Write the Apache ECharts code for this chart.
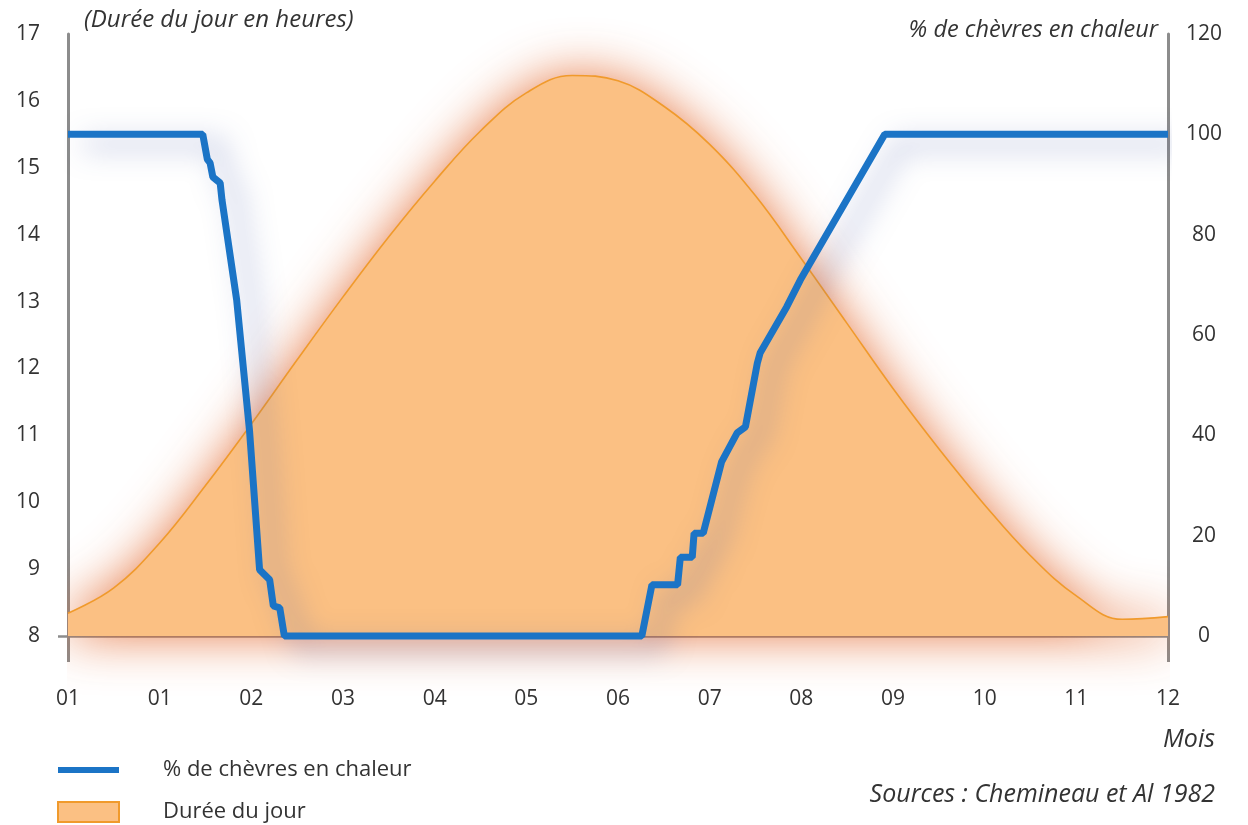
<!DOCTYPE html>
<html>
<head>
<meta charset="utf-8">
<script src="https://cdn.jsdelivr.net/npm/echarts@6/dist/echarts.min.js"></script>
<style>
  html, body { margin: 0; padding: 0; background: #ffffff; }
  #chart { width: 1248px; height: 825px; }
</style>
</head>
<body>
<div id="chart"></div>
<script>
// Month tick labels along the bottom axis (0 .. 12)
const monthLabels = ['01', '01', '02', '03', '04', '05', '06', '07', '08', '09', '10', '11', '12'];

// Day length (hours), sampled every half month
const dayMonths = [0, 0.5, 1, 1.5, 2, 2.5, 3, 3.5, 4, 4.5, 5, 5.5, 6, 6.5, 7, 7.5, 8, 8.5, 9, 9.5, 10, 10.5, 11, 11.5, 12];
const dayHours  = [8.34, 8.72, 9.39, 10.25, 11.17, 12.13, 13.07, 13.97, 14.8, 15.55, 16.12, 16.38, 16.3, 15.92, 15.35, 14.58, 13.64, 12.67, 11.7, 10.8, 9.96, 9.2, 8.6, 8.25, 8.29];

// Share of goats in heat (%)
const heatMonths  = [0, 1.47, 1.52, 1.55, 1.58, 1.66, 1.68, 1.84, 1.98, 2.09, 2.2, 2.24, 2.31, 2.36, 6.26, 6.37, 6.65, 6.68, 6.81, 6.83, 6.93, 7.13, 7.3, 7.39, 7.52, 7.55, 7.84, 7.99, 8.91, 12];
const heatPercent = [100, 100, 95, 94.3, 91.5, 90.3, 86.9, 67, 41, 13.2, 11.2, 6, 5.6, 0, 0, 10.2, 10.2, 15.7, 15.7, 20.5, 20.5, 34.7, 40.5, 41.7, 54.4, 56.4, 65.6, 71, 100, 100];

const dayData = dayMonths.map((m, i) => [m, dayHours[i]]);
const heatData = heatMonths.map((m, i) => [m, heatPercent[i]]);

const FONT = '"Open Sans", "Noto Sans", sans-serif';
const TEXT = '#333333';
const AXIS = '#8c8c8c';
const ORANGE_FILL = '#fbc083';
const ORANGE_LINE = '#f09a2c';
const BLUE = '#1b74c6';

const italic = (size) => ({ fontFamily: FONT, fontSize: size, fontStyle: 'italic', fontWeight: 'normal', color: TEXT });

const chart = echarts.init(document.getElementById('chart'), null, { renderer: 'canvas' });

chart.setOption({
  animation: false,
  backgroundColor: '#ffffff',
  textStyle: { fontFamily: FONT },
  title: [
    { text: '(Durée du jour en heures)', left: 84, top: 8, padding: 0, textStyle: italic(24) },
    { text: '% de chèvres en chaleur', right: 90, top: 19, padding: 0, textStyle: italic(23.5) },
    { text: 'Mois', right: 33, top: 727, padding: 0, textStyle: italic(25) },
    { text: 'Sources : Chemineau et Al 1982', right: 33, top: 782, padding: 0, textStyle: italic(25) }
  ],
  legend: {
    orient: 'vertical',
    left: 57,
    top: 759,
    padding: 0,
    itemWidth: 61,
    itemHeight: 20,
    itemGap: 20,
    selectedMode: false,
    textStyle: { fontFamily: FONT, fontSize: 22, color: TEXT, padding: [0, 0, 0, 39] },
    data: [
      { name: '% de chèvres en chaleur', icon: 'path://M0,0h61v6h-61z',
        itemStyle: { color: BLUE, borderWidth: 0 } },
      { name: 'Durée du jour', icon: 'rect',
        itemStyle: { color: ORANGE_FILL, borderColor: ORANGE_LINE, borderWidth: 2 } }
    ]
  },
  grid: { left: 68, right: 80, top: 34, bottom: 189 },
  xAxis: {
    type: 'value',
    min: 0,
    max: 12,
    interval: 1,
    axisLine: { show: true, onZero: false, lineStyle: { color: AXIS, width: 2.5 } },
    axisTick: { show: true, customValues: [0, 12], length: 26, lineStyle: { color: AXIS, width: 3 } },
    axisLabel: {
      margin: 53,
      fontFamily: FONT, fontSize: 21, color: TEXT,
      formatter: (v) => monthLabels[Math.round(v)]
    },
    splitLine: { show: false }
  },
  yAxis: [
    {
      type: 'value',
      min: 8,
      max: 17,
      interval: 1,
      position: 'left',
      axisLine: { show: true, onZero: false, lineStyle: { color: AXIS, width: 3 } },
      axisTick: { show: true, customValues: [8], length: 10, lineStyle: { color: AXIS, width: 2.5 } },
      axisLabel: { margin: 28, fontFamily: FONT, fontSize: 21, color: TEXT },
      splitLine: { show: false }
    },
    {
      type: 'value',
      min: 0,
      max: 120,
      interval: 20,
      position: 'right',
      axisLine: { show: true, onZero: false, lineStyle: { color: AXIS, width: 3 } },
      axisTick: { show: false },
      axisLabel: { margin: 36, align: 'center', fontFamily: FONT, fontSize: 21, color: TEXT },
      splitLine: { show: false }
    }
  ],
  series: [
    {
      name: 'Durée du jour',
      type: 'line',
      yAxisIndex: 0,
      data: dayData,
      smooth: 0.4,
      symbol: 'none',
      clip: false,
      z: 1,
      lineStyle: { color: ORANGE_LINE, width: 1.6 },
      itemStyle: { color: ORANGE_FILL, borderColor: ORANGE_LINE },
      areaStyle: {
        color: ORANGE_FILL,
        opacity: 1,
        shadowBlur: 50,
        shadowColor: 'rgba(226, 100, 40, 0.85)'
      }
    },
    {
      name: '% de chèvres en chaleur',
      type: 'line',
      yAxisIndex: 1,
      data: heatData,
      symbol: 'none',
      clip: false,
      z: 3,
      itemStyle: { color: BLUE },
      lineStyle: {
        color: BLUE,
        width: 7,
        shadowBlur: 28,
        shadowColor: 'rgba(70, 90, 170, 0.5)',
        shadowOffsetX: 16,
        shadowOffsetY: 10
      }
    }
  ]
});
</script>
</body>
</html>
